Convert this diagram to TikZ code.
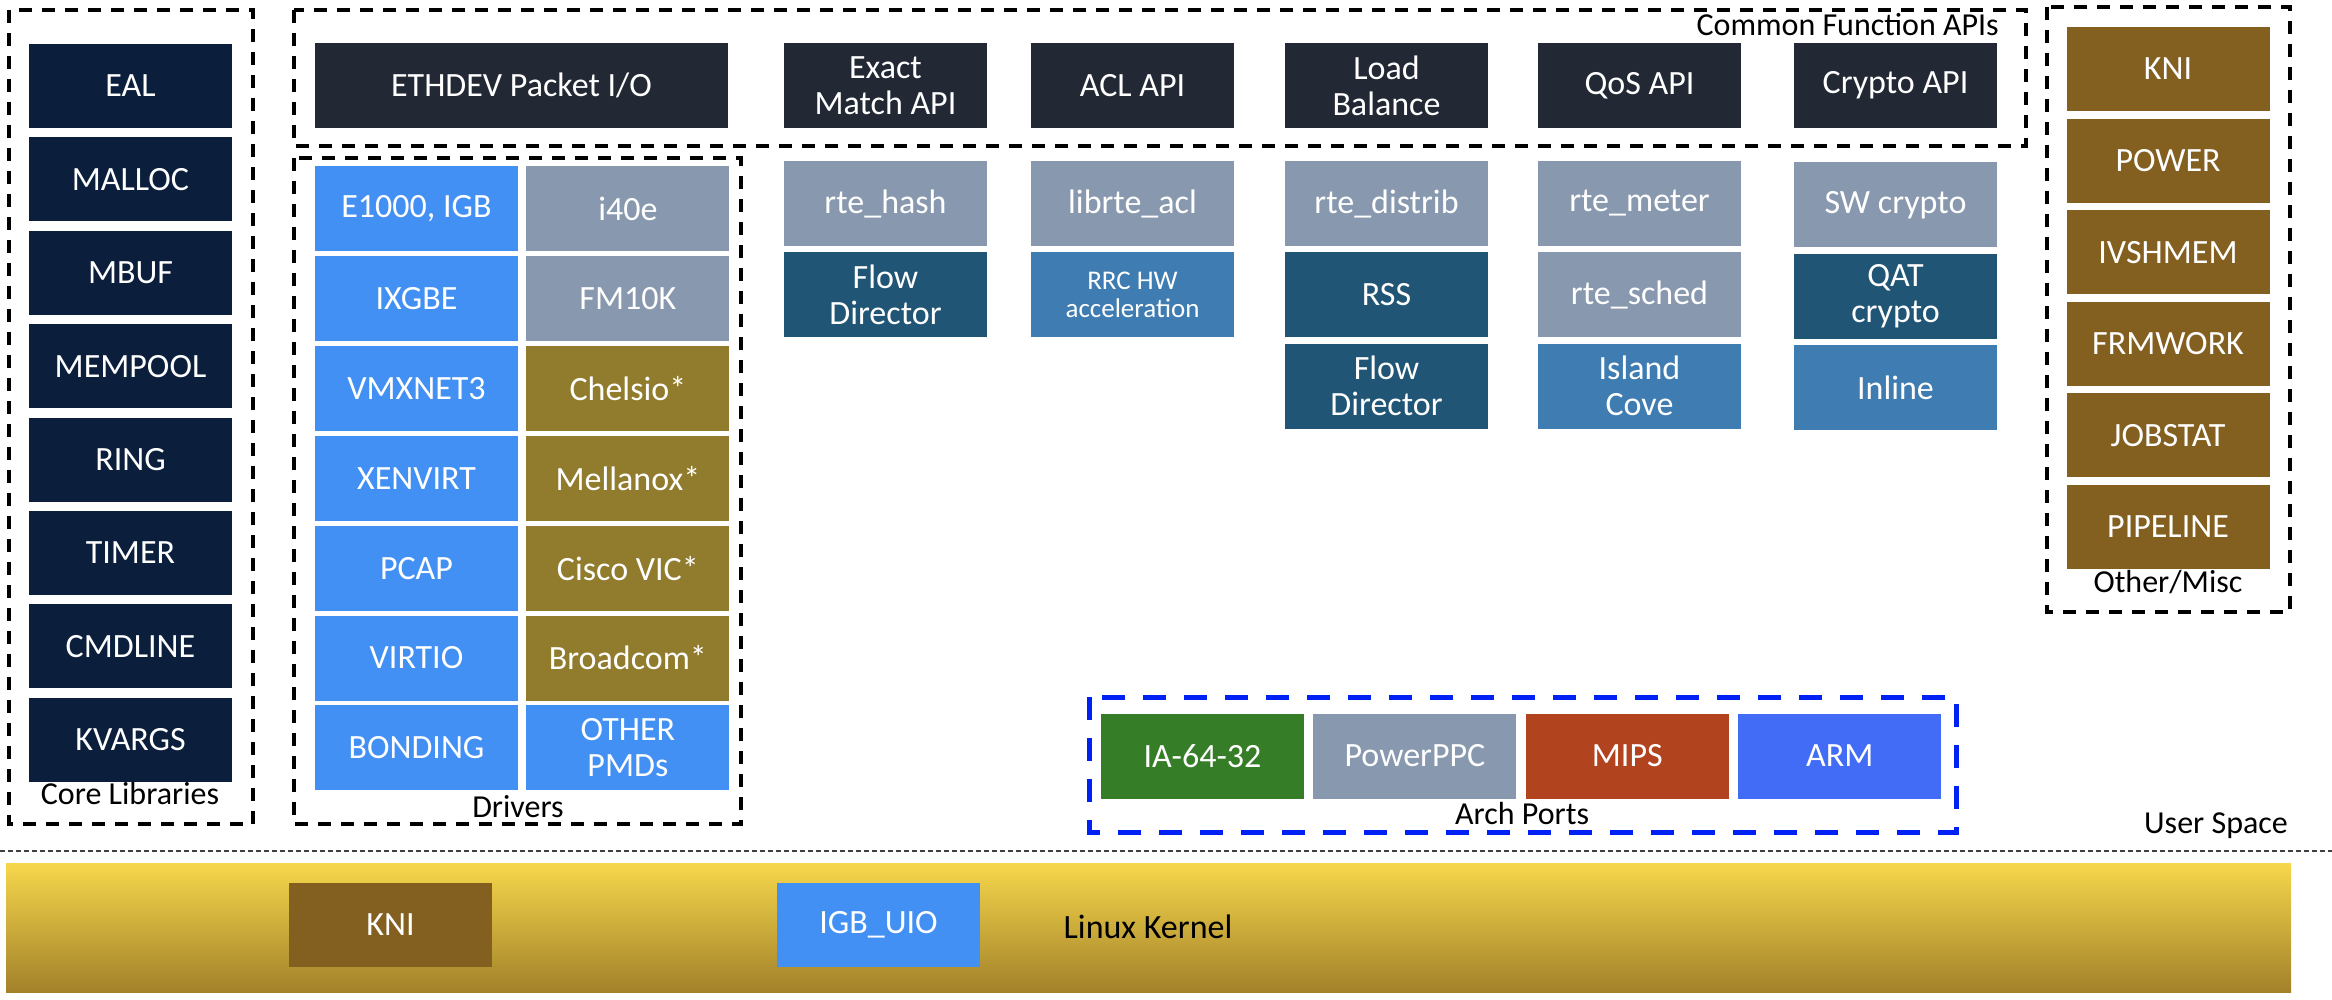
\documentclass[tikz,border=0pt]{standalone}
\usepackage{fontspec}
\setmainfont{Carlito}
\usetikzlibrary{positioning}

\definecolor{corenavy}{HTML}{0B1F3D}
\definecolor{apidark}{HTML}{232934}
\definecolor{libgrey}{HTML}{8898AE}
\definecolor{hwteal}{HTML}{215576}
\definecolor{hwblue}{HTML}{3E7CB1}
\definecolor{nicblue}{HTML}{4390F4}
\definecolor{vendolive}{HTML}{917B2D}
\definecolor{miscbrown}{HTML}{835F20}
\definecolor{archgreen}{HTML}{367D27}
\definecolor{archrust}{HTML}{B1431F}
\definecolor{archblue}{HTML}{426CF5}
\definecolor{portdash}{HTML}{0021F5}
\definecolor{kerneltop}{HTML}{F6D74B}
\definecolor{kernelbot}{HTML}{A2812A}

\newcommand{\blkfont}{\fontsize{34}{36}\selectfont}
\newcommand{\smallblkfont}{\fontsize{27}{28}\selectfont}
\newcommand{\grpfont}{\fontsize{32}{34}\selectfont}

\begin{document}
\begin{tikzpicture}[x=1pt,y=-1pt,
	blk/.style={minimum width=203pt,minimum height=85pt,inner sep=0pt,text=white,align=center,font=\blkfont},
	core/.style={blk,fill=corenavy,minimum height=84pt},
	api/.style={blk,fill=apidark},
	lib/.style={blk,fill=libgrey},
	hwdark/.style={blk,fill=hwteal},
	hwlight/.style={blk,fill=hwblue},
	nic/.style={blk,fill=nicblue},
	vendor/.style={blk,fill=vendolive},
	misc/.style={blk,fill=miscbrown,minimum height=84pt},
	grp/.style={draw=black,line width=3.5pt,dash pattern=on 13pt off 10pt},
	grplbl/.style={font=\grpfont,inner sep=0pt,anchor=base}]
	\useasboundingbox (0,0) rectangle (2332,1000);

	% core libraries
	\node[core] (eal) at (130.5,86) {EAL};
	\node[core,below=9pt of eal] (malloc) {MALLOC};
	\node[core,below=9pt of malloc] (mbuf) {MBUF};
	\node[core,below=9pt of mbuf] (mempool) {MEMPOOL};
	\node[core,below=9pt of mempool] (ring) {RING};
	\node[core,below=9pt of ring] (timer) {TIMER};
	\node[core,below=9pt of timer] (cmdline) {CMDLINE};
	\node[core,below=9pt of cmdline] (kvargs) {KVARGS};
	\draw[grp] (9,10) rectangle (253,824);
	\node[grplbl] (corelbl) at (130,804) {Core Libraries};

	% common function APIs
	\node[api,minimum width=413pt] (ethdev) at (521.5,85.5) {ETHDEV Packet I/O};
	\node[api] (exact) at (885.5,85.5) {Exact\\Match API};
	\node[api] (acl) at (1132.5,85.5) {ACL API};
	\node[api] (lb) at (1386.5,85.5) {Load\\Balance};
	\node[api] (qos) at (1639.5,85.5) {QoS API};
	\node[api] (crypto) at (1895.5,85.5) {Crypto API};
	\draw[grp] (294,10) rectangle (2026,146);
	\node[grplbl,anchor=base east] (apilbl) at (1999,36) {Common Function APIs};

	% libraries and hw offload under the APIs
	\node[lib] (hash) at (885.5,203.5) {rte\_hash};
	\node[hwdark,below=6pt of hash] (fdir) {Flow\\Director};
	\node[lib] (libacl) at (1132.5,203.5) {librte\_acl};
	\node[hwlight,below=6pt of libacl,font=\smallblkfont] (rrc) {RRC HW\\acceleration};
	\node[lib] (distrib) at (1386.5,203.5) {rte\_distrib};
	\node[hwdark,below=6pt of distrib] (rss) {RSS};
	\node[hwdark,below=6pt of rss] (fdir2) {Flow\\Director};
	\node[lib] (meter) at (1639.5,203.5) {rte\_meter};
	\node[lib,below=6pt of meter] (sched) {rte\_sched};
	\node[hwlight,below=6pt of sched] (island) {Island\\Cove};
	\node[lib] (swcrypto) at (1895.5,205) {SW crypto};
	\node[hwdark,below=6pt of swcrypto] (qat) {QAT\\crypto};
	\node[hwlight,below=6pt of qat] (inline) {Inline};

	% drivers
	\node[nic] (e1000) at (416.5,208.5) {E1000, IGB};
	\node[nic,below=4.5pt of e1000] (ixgbe) {IXGBE};
	\node[nic,below=4.5pt of ixgbe] (vmxnet) {VMXNET3};
	\node[nic,below=4.5pt of vmxnet] (xenvirt) {XENVIRT};
	\node[nic,below=4.5pt of xenvirt] (pcap) {PCAP};
	\node[nic,below=4.5pt of pcap] (virtio) {VIRTIO};
	\node[nic,below=4.5pt of virtio] (bonding) {BONDING};
	\node[lib,right=8pt of e1000] (i40e) {i40e};
	\node[lib,right=8pt of ixgbe] (fm10k) {FM10K};
	\node[vendor,right=8pt of vmxnet] (chelsio) {Chelsio*};
	\node[vendor,right=8pt of xenvirt] (mlx) {Mellanox*};
	\node[vendor,right=8pt of pcap] (cisco) {Cisco VIC*};
	\node[vendor,right=8pt of virtio] (bcm) {Broadcom*};
	\node[nic,right=8pt of bonding] (otherpmd) {OTHER\\PMDs};
	\draw[grp] (294,158) rectangle (741,824);
	\node[grplbl] (drvlbl) at (518,817) {Drivers};

	% other/misc
	\node[misc] (kni) at (2168,69) {KNI};
	\node[misc,below=7.2pt of kni] (power) {POWER};
	\node[misc,below=7.2pt of power] (ivshmem) {IVSHMEM};
	\node[misc,below=7.2pt of ivshmem] (frmwork) {FRMWORK};
	\node[misc,below=7.2pt of frmwork] (jobstat) {JOBSTAT};
	\node[misc,below=7.2pt of jobstat] (pipeline) {PIPELINE};
	\draw[grp] (2047,7) rectangle (2290,612);
	\node[grplbl] (misclbl) at (2168,592) {Other/Misc};

	% arch ports
	\node[blk,fill=archgreen] (ia) at (1202.5,756) {IA-64-32};
	\node[lib,right=9pt of ia] (ppc) {PowerPPC};
	\node[blk,fill=archrust,right=9pt of ppc] (mips) {MIPS};
	\node[blk,fill=archblue,right=9pt of mips] (arm) {ARM};
	\draw[draw=portdash,line width=5pt,dash pattern=on 23pt off 18pt] (1089,697) rectangle (1956,832);
	\node[grplbl] (archlbl) at (1522,824) {Arch Ports};

	% user space / kernel split
	\node[grplbl] (userlbl) at (2216,833) {User Space};
	\draw[black!75,line width=2pt,dash pattern=on 5pt off 3pt] (0,851) -- (2332,851);
	\shade[top color=kerneltop,bottom color=kernelbot] (6,863) rectangle (2291,992);
	\node[blk,fill=miscbrown,minimum height=84pt] (kkni) at (390.5,925) {KNI};
	\node[nic,minimum height=84pt] (igbuio) at (878.5,925) {IGB\_UIO};
	\node[grplbl,font=\blkfont] (kernlbl) at (1148,938) {Linux Kernel};
\end{tikzpicture}
\end{document}
